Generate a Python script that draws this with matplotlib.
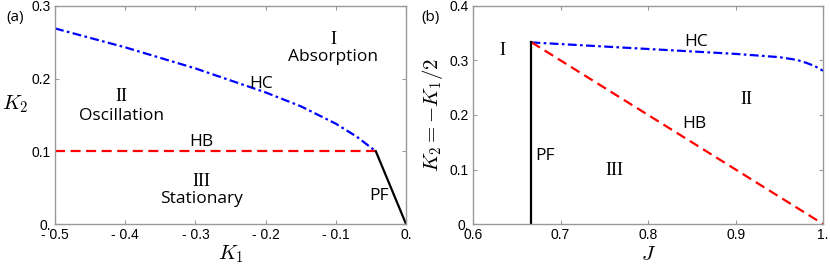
import numpy as np
import matplotlib.pyplot as plt

plt.rcParams['mathtext.fontset'] = 'cm'

# panel (a): K1 vs K2
hc_a_k1 = [-0.5, -0.4, -0.3, -0.2, -0.15, -0.1, -0.07, -0.043]
hc_a_k2 = [0.269, 0.243, 0.214, 0.181, 0.162, 0.138, 0.120, 0.100]
hb_a_k1 = [-0.5, -0.043]
hb_a_k2 = [0.1, 0.1]
pf_a_k1 = [-0.043, 0.0]
pf_a_k2 = [0.1, 0.0]

# panel (b): J vs K2
hc_b_j = [2/3, 0.7, 0.8, 0.9, 0.95, 0.97, 0.98, 0.99, 1.0]
hc_b_k2 = [0.333, 0.330, 0.321, 0.312, 0.306, 0.301, 0.296, 0.290, 0.281]
hb_b_j = [2/3, 1.0]
hb_b_k2 = [1/3, 0.0]
pf_b_j = [2/3, 2/3]
pf_b_k2 = [0.0, 1/3]

xt_a = [-0.5, -0.4, -0.3, -0.2, -0.1, 0.0]
xl_a = ['- 0.5', '- 0.4', '- 0.3', '- 0.2', '- 0.1', '0.']
yt_a = [0, 0.1, 0.2, 0.3]
yl_a = ['0.', '0.1', '0.2', '0.3']
xt_b = [0.6, 0.7, 0.8, 0.9, 1.0]
xl_b = ['0.6', '0.7', '0.8', '0.9', '1.']
yt_b = [0, 0.1, 0.2, 0.3, 0.4]
yl_b = ['0.', '0.1', '0.2', '0.3', '0.4']

fig = plt.figure(figsize=(8.3, 2.68), dpi=100)
ax1 = fig.add_axes([0.0663, 0.164, 0.4229, 0.814])
ax2 = fig.add_axes([0.570, 0.164, 0.4217, 0.814])

frame = '#999999'
sans = 'Open Sans'
serif = 'Liberation Serif'
fs = 12.5

def style(ax, xt, xl, yt, yl):
    ax.set_xticks(xt)
    ax.set_xticklabels(xl, family='Liberation Sans', fontsize=10)
    ax.set_yticks(yt)
    ax.set_yticklabels(yl, family='Liberation Sans', fontsize=10)
    ax.tick_params(direction='in', length=3, color=frame, top=True, right=True, pad=3)
    ax.get_yticklabels()[0].set_va('center_baseline')
    for s in ax.spines.values():
        s.set_color(frame)
        s.set_linewidth(1.0)

hc_style = dict(color='blue', lw=1.6, dashes=(4, 1.5, 1.2, 1.5))
hb_style = dict(color='red', lw=1.6, dashes=(4.5, 2.5))
pf_style = dict(color='black', lw=1.6)

ax1.plot(hc_a_k1, hc_a_k2, **hc_style)
ax1.plot(hb_a_k1, hb_a_k2, **hb_style)
ax1.plot(pf_a_k1, pf_a_k2, **pf_style)
ax1.set_xlim(-0.5, 0.0)
ax1.set_ylim(0, 0.3)
style(ax1, xt_a, xl_a, yt_a, yl_a)
ax1.set_xlabel('$K_1$', fontsize=15, labelpad=1)
ax1.set_ylabel('$K_2$', fontsize=15, rotation=0, labelpad=12)

ax1.text(-0.104, 0.254, 'I', family=serif, fontsize=13, ha='center', va='center')
ax1.text(-0.104, 0.230, 'Absorption', family=sans, fontsize=fs, ha='center', va='center')
ax1.text(-0.206, 0.193, 'HC', family=sans, fontsize=fs, ha='center', va='center')
ax1.text(-0.406, 0.175, 'II', family=serif, fontsize=13, ha='center', va='center')
ax1.text(-0.406, 0.148, 'Oscillation', family=sans, fontsize=fs, ha='center', va='center')
ax1.text(-0.291, 0.113, 'HB', family=sans, fontsize=fs, ha='center', va='center')
ax1.text(-0.291, 0.059, 'III', family=serif, fontsize=13, ha='center', va='center')
ax1.text(-0.291, 0.034, 'Stationary', family=sans, fontsize=fs, ha='center', va='center')
ax1.text(-0.039, 0.038, 'PF', family=sans, fontsize=fs, ha='center', va='center')

ax2.plot(hc_b_j, hc_b_k2, **hc_style)
ax2.plot(hb_b_j, hb_b_k2, **hb_style)
ax2.plot(pf_b_j, pf_b_k2, **pf_style)
ax2.set_xlim(0.6, 1.0)
ax2.set_ylim(0, 0.4)
style(ax2, xt_b, xl_b, yt_b, yl_b)
ax2.set_xlabel('$J$', fontsize=15, labelpad=1)
ax2.set_ylabel('$K_2=-K_1/2$', fontsize=15, labelpad=3)

ax2.text(0.6335, 0.319, 'I', family=serif, fontsize=13, ha='center', va='center')
ax2.text(0.8546, 0.333, 'HC', family=sans, fontsize=fs, ha='center', va='center')
ax2.text(0.9125, 0.229, 'II', family=serif, fontsize=13, ha='center', va='center')
ax2.text(0.8527, 0.183, 'HB', family=sans, fontsize=fs, ha='center', va='center')
ax2.text(0.682, 0.125, 'PF', family=sans, fontsize=fs, ha='center', va='center')
ax2.text(0.761, 0.099, 'III', family=serif, fontsize=13, ha='center', va='center')

fig.text(6/830, 1 - 17/268, '(a)', family=sans, fontsize=11, ha='left', va='center')
fig.text(421/830, 1 - 17/268, '(b)', family=sans, fontsize=11, ha='left', va='center')

fig.savefig('out.png', dpi=100)
